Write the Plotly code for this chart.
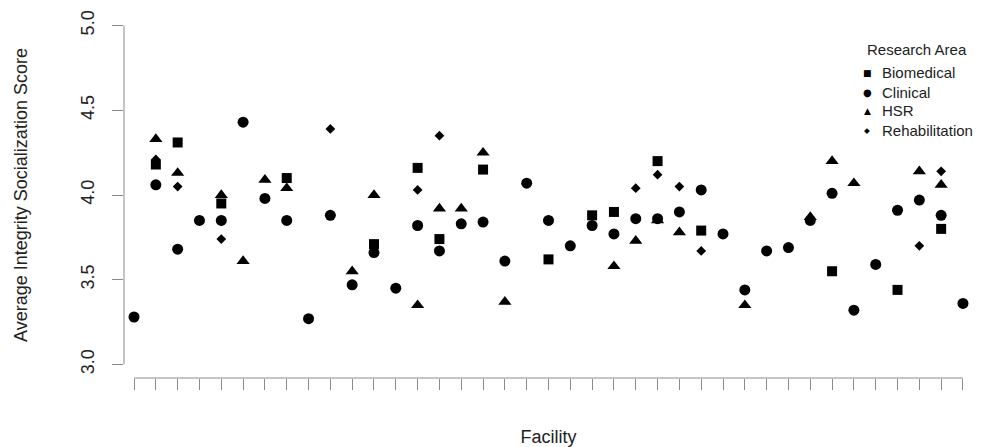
import plotly.graph_objects as go

# ---- data ----
facilities = list(range(1, 40))

biomedical = [None, 4.18, 4.31, None, 3.95, None, None, 4.10, None, None,
              None, 3.71, None, 4.16, 3.74, None, 4.15, None, None, 3.62,
              None, 3.88, 3.90, None, 4.20, None, 3.79, None, None, None,
              None, None, 3.55, None, None, 3.44, None, 3.80, None]

clinical = [3.28, 4.06, 3.68, 3.85, 3.85, 4.43, 3.98, 3.85, 3.27, 3.88,
            3.47, 3.66, 3.45, 3.82, 3.67, 3.83, 3.84, 3.61, 4.07, 3.85,
            3.70, 3.82, 3.77, 3.86, 3.86, 3.90, 4.03, 3.77, 3.44, 3.67,
            3.69, 3.85, 4.01, 3.32, 3.59, 3.91, 3.97, 3.88, 3.36]

hsr = [None, 4.33, 4.13, None, 4.00, 3.61, 4.09, 4.04, None, None,
       3.55, 4.00, None, 3.35, 3.92, 3.92, 4.25, 3.37, None, None,
       None, None, 3.58, 3.73, 3.85, 3.78, None, None, 3.35, None,
       None, 3.87, 4.20, 4.07, None, None, 4.14, 4.06, None]

rehabilitation = [None, 4.21, 4.05, None, 3.74, None, None, None, None, 4.39,
                  None, None, None, 4.03, 4.35, None, None, None, None, None,
                  None, None, None, 4.04, 4.12, 4.05, 3.67, None, None, None,
                  None, None, None, None, None, None, 3.70, 4.14, None]

area_names = ["Biomedical", "Clinical", "HSR", "Rehabilitation"]
legend_title = "Research Area"
y_ticks = [3.0, 3.5, 4.0, 4.5, 5.0]
y_tick_labels = ["3.0", "3.5", "4.0", "4.5", "5.0"]

# ---- styling ----
FONT = "Liberation Sans, Arial, sans-serif"
TXT = "#222222"
AX = "#8a8a8a"
series = [biomedical, clinical, hsr, rehabilitation]
symbols = ["square", "circle", "triangle-up", "diamond"]
sizes = [10, 11, 11.5, 7.5]
legend_glyphs = ["\u25A0", "\u25CF", "\u25B2", "\u25C6"]
legend_glyph_sizes = [9, 10, 9, 7.5]

W, H = 986, 447
ML, MR, MT, MB = 124, 13, 12, 69
PW, PH = W - ML - MR, H - MT - MB

def px_x(px):
    return (px - ML) / PW

def px_y(py):
    return (H - MB - py) / PH

fig = go.Figure()

for name, vals, sym, sz in zip(area_names, series, symbols, sizes):
    xs = [f for f, v in zip(facilities, vals) if v is not None]
    ys = [v for v in vals if v is not None]
    fig.add_trace(go.Scatter(
        x=xs, y=ys, mode="markers", name=name, showlegend=False,
        marker=dict(symbol=sym, size=sz, color="black", line=dict(width=0)),
    ))

# ---- legend drawn as text (R-style compact legend) ----
annotations = [dict(
    text=legend_title, xref="paper", yref="paper",
    x=px_x(917), y=px_y(49), xanchor="center", yanchor="middle",
    showarrow=False, font=dict(family=FONT, size=15, color=TXT),
)]
item_y = [73, 92, 111, 130]
for name, g, gs, iy in zip(area_names, legend_glyphs, legend_glyph_sizes, item_y):
    annotations.append(dict(
        text=g, xref="paper", yref="paper", x=px_x(867), y=px_y(iy),
        xanchor="center", yanchor="middle", showarrow=False,
        font=dict(family="DejaVu Sans", size=gs, color="black"),
    ))
    annotations.append(dict(
        text=name, xref="paper", yref="paper", x=px_x(880), y=px_y(iy),
        xanchor="left", yanchor="middle", showarrow=False,
        font=dict(family=FONT, size=15, color=TXT),
    ))

xmin, xmax = facilities[0], facilities[-1]
pad = 0.46

fig.update_layout(
    width=W, height=H,
    margin=dict(l=ML, r=MR, t=MT, b=MB, autoexpand=False),
    paper_bgcolor="white", plot_bgcolor="white",
    font=dict(family=FONT, size=18, color=TXT),
    showlegend=False,
    annotations=annotations,
    xaxis=dict(
        range=[xmin - pad, xmax + pad],
        tickmode="array", tickvals=facilities, showticklabels=False,
        ticks="outside", ticklen=11, tickwidth=1, tickcolor=AX,
        showgrid=False, zeroline=False, showline=False,
        title=dict(text="Facility", standoff=42,
                   font=dict(family=FONT, size=18, color=TXT)),
        automargin=False,
    ),
    yaxis=dict(
        range=[2.92, 5.08],
        tickmode="array", tickvals=y_ticks, ticktext=y_tick_labels,
        tickangle=-90, ticks="outside", ticklen=11, tickwidth=1, tickcolor=AX,
        ticklabelstandoff=11,
        tickfont=dict(family=FONT, size=18, color=TXT),
        showgrid=False, zeroline=False, showline=False,
        title=dict(text="Average Integrity Socialization Score", standoff=45,
                   font=dict(family=FONT, size=18, color=TXT)),
        automargin=False,
    ),
    shapes=[
        dict(type="line", xref="x", yref="paper", x0=xmin, x1=xmax, y0=0, y1=0,
             line=dict(color=AX, width=1)),
        dict(type="line", xref="paper", yref="y", x0=0, x1=0,
             y0=y_ticks[0], y1=y_ticks[-1], line=dict(color=AX, width=1)),
    ],
)

fig.write_html("out.html", config={"displayModeBar": False},
               post_script="document.body.style.margin='0px';")
